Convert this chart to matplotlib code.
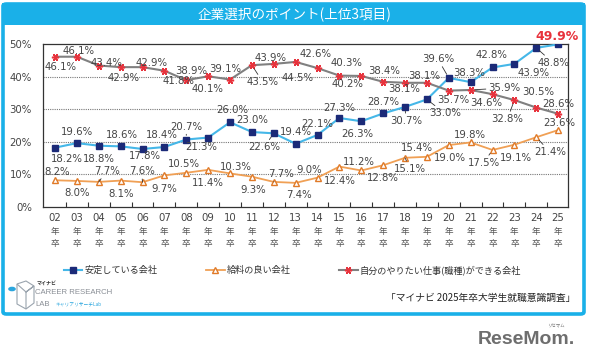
import matplotlib
matplotlib.use('Agg')
import matplotlib.pyplot as plt
from matplotlib.patches import FancyBboxPatch, Rectangle, Circle, Polygon
import numpy as np

# ---------------- data ----------------
years = ['02', '03', '04', '05', '06', '07', '08', '09', '10', '11', '12', '13',
         '14', '15', '16', '17', '18', '19', '20', '21', '22', '23', '24', '25']
stable = [18.2, 19.6, 18.8, 18.6, 17.8, 18.4, 20.7, 21.3, 26.0, 23.0, 22.6, 19.4,
          22.1, 27.3, 26.3, 28.7, 30.7, 33.0, 39.6, 38.3, 42.8, 43.9, 48.8, 49.9]
salary = [8.2, 8.0, 7.7, 8.1, 7.6, 9.7, 10.5, 11.4, 10.3, 9.3, 7.7, 7.4,
          9.0, 12.4, 11.2, 12.8, 15.1, 15.4, 19.0, 19.8, 17.5, 19.1, 21.4, 23.6]
want = [46.1, 46.1, 43.4, 42.9, 42.9, 41.8, 38.9, 40.1, 39.1, 43.5, 43.9, 44.5,
        42.6, 40.3, 40.2, 38.4, 38.1, 38.1, 35.7, 35.9, 34.6, 32.8, 30.5, 28.6]
series_names = ['安定している会社', '給料の良い会社', '自分のやりたい仕事(職種)ができる会社']
yticks = [0, 10, 20, 30, 40, 50]
title = '企業選択のポイント(上位3項目)'
source = '「マイナビ 2025年卒大学生就職意識調査」'

# ---------------- label offsets (pixels) ----------------
want_off = [(6, -10), (2, 6), (8, 3), (3, -11), (9, 4), (14, -10), (5, 9), (-1, -13),
            (-5, 11), (11, -17), (-3, 6), (2, -16), (-2, 14), (7, 13), (-14, -8), (1, 11),
            (-1, -6), (-3, 7), (4, -9), (34, 2), (-6, -9), (-7, -19), (2, 16), (0, 10)]
want_lead = [9, 19, 21]
stable_off = [(12, -11), (0, 11), (0, -13), (1, 11), (2, -7), (-3, 12), (0, 13), (-7, -9),
              (2, 12), (0, 12), (-10, -14), (0, 12), (0, 11), (0, 10), (-4, -13), (0, 11),
              (1, -14), (18, -14), (-11, 19), (-2, 9), (-1, 12), (19, -9), (17, -15), (-1, 8)]
stable_lead = [6, 10, 16, 17, 18, 22]
salary_off = [(2, 8), (0, -12), (8, 11), (0, -13), (-1, 11), (0, -14), (-2, 9), (0, -13),
              (6, 6), (1, -13), (7, 8), (3, -12), (-8, 8), (0, -14), (-2, 8), (0, -13),
              (5, -11), (-10, 9), (1, -13), (-1, 7), (-9, -13), (1, -13), (14, -15), (1, 7)]
salary_lead = [2, 4, 10, 16, 20, 22]

CJK = ['Noto Sans CJK JP', 'DejaVu Sans']
NUM = ['DejaVu Sans', 'Noto Sans CJK JP']
CYAN = '#1AB0E8'

fig = plt.figure(figsize=(5.9, 3.53), dpi=100)
W, H = 590, 353

def fx(px):
    return px / W

def fy(py):
    return 1 - py / H

# panel frame and title bar
fig.add_artist(Rectangle((fx(2), fy(25)), fx(585) - fx(2), fy(3) - fy(25),
                         transform=fig.transFigure, facecolor=CYAN, edgecolor='none'))
fig.add_artist(FancyBboxPatch((fx(3), fy(314)), fx(584) - fx(3), fy(4) - fy(314),
                              boxstyle='round,pad=0,rounding_size=0.006',
                              transform=fig.transFigure, fill=False,
                              edgecolor=CYAN, linewidth=2.6))
fig.text(fx(294), fy(15), title, ha='center', va='center', color='white',
         fontsize=9.8, family=CJK)

ax = fig.add_axes([fx(43), fy(207), fx(568) - fx(43), fy(44) - fy(207)])
x = np.arange(len(years))

l1, = ax.plot(x, stable, color='#45B7E8', lw=1.5, marker='s', ms=4.5,
              mfc='#1B2A78', mec='#1B2A78', zorder=4)
l2, = ax.plot(x, salary, color='#F0A055', lw=1.3, marker='^', ms=5,
              mfc='white', mec='#E07A28', mew=1.0, zorder=4)
l3, = ax.plot(x, want, color='#808080', lw=1.5, marker=(6, 2, 90), ms=5.2,
              mec='#E8323C', mew=1.1, zorder=4)

ax.set_xlim(-0.55, 23.45)
ax.set_ylim(0, 50)
ax.set_yticks(yticks)
ax.set_yticklabels([f'{v}%' for v in yticks], fontsize=7.3, color='#444', family=NUM)
ax.set_xticks(x)
ax.set_xticklabels(years, fontsize=7.3, color='#444', family=NUM)
ax.set_xticks(x[:-1] + 0.5, minor=True)
ax.tick_params(axis='x', which='major', length=0, pad=4)
ax.tick_params(axis='x', which='minor', direction='in', length=3.5, color='#333', width=0.8)
ax.tick_params(axis='y', length=0, pad=8)
xt = ax.get_xaxis_transform()
for i in x:
    ax.text(i, -0.153, '年', transform=xt, ha='center', va='center', fontsize=6.2,
            color='#555', family=CJK, clip_on=False)
    ax.text(i, -0.226, '卒', transform=xt, ha='center', va='center', fontsize=6.2,
            color='#555', family=CJK, clip_on=False)
for s in ax.spines.values():
    s.set_color('#333')
    s.set_linewidth(0.9)
for v in yticks[1:-1]:
    ax.axhline(v, color='#777', lw=0.8, ls=(0, (1, 1)), zorder=1)

def labels(vals, offs, leads, special=None):
    for i, (v, (dx, dy)) in enumerate(zip(vals, offs)):
        kw = dict(fontsize=7.3, color='#444', family=NUM)
        if special is not None and i == special:
            kw = dict(fontsize=9, color='#E8323C', fontweight='bold', family=NUM)
        ap = None
        if i in leads:
            ap = dict(arrowstyle='-', color='#333', lw=0.6, shrinkA=0, shrinkB=3)
        ax.annotate(f'{v:.1f}%', xy=(i, v), xytext=(dx, dy), textcoords='offset pixels',
                    ha='center', va='center', arrowprops=ap, zorder=6, **kw)

labels(want, want_off, want_lead)
labels(stable, stable_off, stable_lead, special=len(stable) - 1)
labels(salary, salary_off, salary_lead)

leg = fig.legend([l1, l2, l3], series_names, loc='center left',
                 bbox_to_anchor=(fx(64), fy(270)), ncol=3, frameon=False,
                 prop={'family': CJK, 'size': 6.6}, handlelength=2.0,
                 handletextpad=0.25, columnspacing=5.3, borderpad=0, borderaxespad=0)
for t in leg.get_texts():
    t.set_color('#333')

# logo
fig.add_artist(Circle((fx(12), fy(289)), 0.0065, transform=fig.transFigure,
                      facecolor='#2BA6DE', edgecolor='none'))
hexpts = [(17, 284), (26, 281), (34, 286), (34, 303), (26, 309), (17, 304)]
fig.add_artist(Polygon([(fx(a), fy(b)) for a, b in hexpts], closed=True, fill=False,
                       edgecolor='#9AA4AE', lw=0.8, transform=fig.transFigure))
fig.add_artist(Polygon([(fx(a), fy(b)) for a, b in [(17, 284), (26, 292), (34, 286), (26, 292), (26, 309)]],
                       closed=False, fill=False, edgecolor='#9AA4AE', lw=0.8,
                       transform=fig.transFigure))
fig.text(fx(37), fy(283.5), 'マイナビ', fontsize=3.6, color='#333', fontweight='bold',
         family=CJK, va='center', ha='left')
fig.text(fx(35), fy(293), 'CAREER RESEARCH', fontsize=5.6, color='#8A8F96',
         family=['Liberation Sans'], va='center', ha='left')
fig.text(fx(35), fy(304), 'LAB', fontsize=5.6, color='#8A8F96',
         family=['Liberation Sans'], va='center', ha='left')
fig.text(fx(55), fy(304), 'キャリアリサーチLab', fontsize=3.4, color='#2BA6DE',
         family=CJK, va='center', ha='left')

fig.text(fx(576), fy(298), source, fontsize=7, color='#222', family=CJK,
         ha='right', va='center')

fig.text(fx(575), fy(339), 'ReseMom.', fontsize=14, color='#6E6E6E', fontweight='bold',
         family=['Liberation Sans'], ha='right', va='center')
fig.text(fx(556), fy(326), 'リセマム', fontsize=3.2, color='#6E6E6E', family=CJK,
         ha='center', va='center')

fig.savefig('out.png', dpi=100)
